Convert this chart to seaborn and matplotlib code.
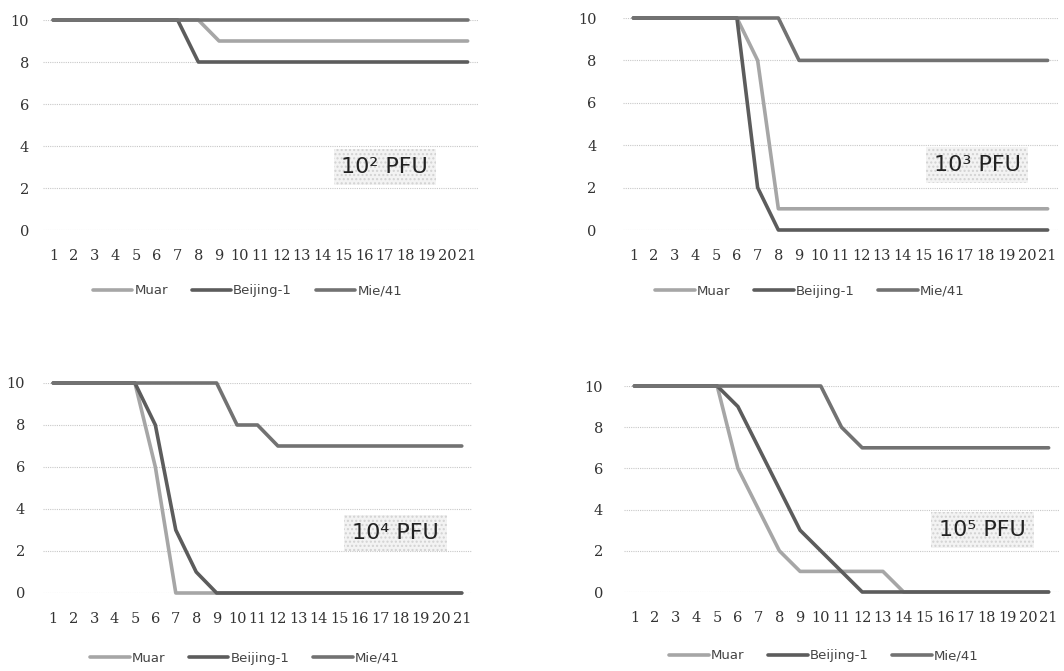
import numpy as np
import pandas as pd
import matplotlib
matplotlib.use("Agg")
import matplotlib.pyplot as plt
import seaborn as sns

days = list(range(1, 22))
strains = ["Muar", "Beijing-1", "Mie/41"]

# 10^2 PFU
muar_2 = [10]*8 + [9]*13
beijing_2 = [10]*7 + [8]*14
mie_2 = [10]*21
# 10^3 PFU
muar_3 = [10]*6 + [8] + [1]*14
beijing_3 = [10]*6 + [2] + [0]*14
mie_3 = [10]*8 + [8]*13
# 10^4 PFU
muar_4 = [10]*5 + [6, 0] + [0]*14
beijing_4 = [10]*5 + [8, 3, 1] + [0]*13
mie_4 = [10]*9 + [8, 8] + [7]*10
# 10^5 PFU
muar_5 = [10]*5 + [6, 4, 2, 1, 1, 1, 1, 1] + [0]*8
beijing_5 = [10]*5 + [9, 7, 5, 3, 2, 1] + [0]*10
mie_5 = [10]*10 + [8] + [7]*10

panel_labels = ["10\u00b2 PFU", "10\u00b3 PFU", "10\u2074 PFU", "10\u2075 PFU"]
panel_data = [
    (muar_2, beijing_2, mie_2),
    (muar_3, beijing_3, mie_3),
    (muar_4, beijing_4, mie_4),
    (muar_5, beijing_5, mie_5),
]

colors = {"Muar": "#a6a6a6", "Beijing-1": "#5c5c5c", "Mie/41": "#727272"}

sns.set_theme(style="white")
plt.rcParams["font.family"] = ["DejaVu Sans"]

W, H = 1064, 671
fig = plt.figure(figsize=(W/100, H/100), dpi=100)

# pixel boxes: left, right, top, bottom
boxes = [(43, 478, 20, 230), (623, 1058, 18, 230), (43, 472, 383, 593), (624, 1059, 386, 592)]
ypads = [10, 19, 13, 15]
leg_x = [0.47, 0.43, 0.47, 0.46]
leg_y = [-0.29, -0.29, -0.31, -0.31]
text_pos = [(17.0, 3.0), (17.6, 3.07), (17.75, 2.86), (17.8, 3.0)]

for i, (l, r, t, b) in enumerate(boxes):
    ax = fig.add_axes([l/W, 1-b/H, (r-l)/W, (b-t)/H])
    rows = []
    for s, vals in zip(strains, panel_data[i]):
        for d, v in zip(days, vals):
            rows.append({"day": d, "value": v, "strain": s})
    df = pd.DataFrame(rows)
    sns.lineplot(data=df, x="day", y="value", hue="strain", hue_order=strains,
                 palette=colors, linewidth=2.6, ax=ax, legend=False, clip_on=False)
    ax.set_xlim(0.5, 21.5)
    ax.set_ylim(0, 10)
    ax.set_xticks(days)
    ax.set_xticklabels([str(d) for d in days], family="DejaVu Serif")
    ax.set_yticks([0, 2, 4, 6, 8, 10])
    ax.set_yticklabels(["0", "2", "4", "6", "8", "10"], family="DejaVu Serif")
    ax.set_xlabel("")
    ax.set_ylabel("")
    for sp in ax.spines.values():
        sp.set_visible(False)
    ax.grid(False)
    ax.yaxis.grid(True, color="#c8c8c8", linestyle=(0, (1, 1)), linewidth=0.8)
    ax.set_axisbelow(True)
    ax.tick_params(axis="x", length=0, pad=14, labelsize=10.5, labelcolor="#333333")
    ax.tick_params(axis="y", length=0, pad=ypads[i], labelsize=10.5, labelcolor="#333333")
    ax.legend(ax.get_lines()[:3], strains, loc="center", bbox_to_anchor=(leg_x[i], leg_y[i]),
              ncol=3, frameon=False, fontsize=9.5, handlelength=3.0, handletextpad=0.15,
              columnspacing=1.8, labelcolor="#444444")
    ax.text(text_pos[i][0], text_pos[i][1], panel_labels[i], ha="center", va="center",
            fontsize=16, color="#222222",
            bbox=dict(boxstyle="square,pad=0.35", fc="#f3f3f3", ec="#d2d2d2", lw=0, hatch="...."))

fig.savefig("out.png", dpi=100)
